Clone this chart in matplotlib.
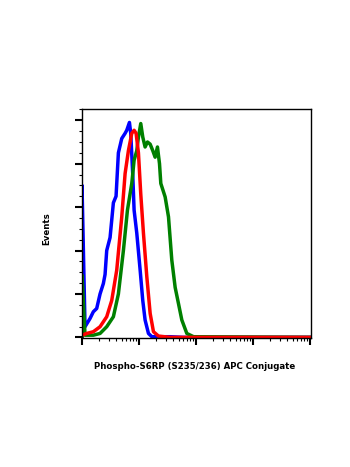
import numpy as np
import matplotlib
matplotlib.use("Agg")
import matplotlib.pyplot as plt
from matplotlib.ticker import LogLocator, MultipleLocator, NullFormatter

# log10 intensity positions and event counts (% of max)
blue_logx = [0.0, 0.0, 0.053, 0.141, 0.199, 0.258, 0.317, 0.375, 0.405, 0.434, 0.493, 0.522,
             0.551, 0.598, 0.639, 0.698, 0.757, 0.786, 0.833, 0.856, 0.891, 0.915, 0.962,
             1.021, 1.067, 1.108, 1.167, 1.226, 1.548, 1.783, 4.02]
blue_y = [0.0, 70.0, 4.9, 8.7, 11.8, 13.3, 20.0, 24.8, 29.0, 40.0, 46.0, 54.0,
          62.0, 65.0, 85.0, 91.6, 94.0, 95.4, 99.0, 94.0, 75.0, 58.6, 48.0,
          31.0, 17.0, 8.0, 1.8, 0.3, 0.3, 0.0, 0.0]

red_logx = [0.0, 0.082, 0.199, 0.317, 0.434, 0.522, 0.610, 0.698, 0.757, 0.815, 0.874,
            0.915, 0.950, 0.991, 1.032, 1.079, 1.138, 1.197, 1.255, 1.343, 1.548, 4.02]
red_y = [1.0, 1.8, 2.6, 4.9, 9.5, 17.0, 31.0, 55.5, 75.5, 86.0, 94.0,
         95.4, 94.0, 85.0, 66.0, 48.0, 28.0, 11.0, 2.6, 0.6, 0.0, 0.0]

green_logx = [0.0, 0.0, 0.053, 0.199, 0.317, 0.434, 0.551, 0.639, 0.727, 0.798, 0.874,
              0.915, 0.962, 0.991, 1.032, 1.067, 1.108, 1.150, 1.197, 1.243, 1.284,
              1.325, 1.361, 1.384, 1.460, 1.519, 1.577, 1.636, 1.694, 1.753, 1.841,
              1.959, 4.02]
green_y = [0.0, 28.7, 1.0, 1.0, 1.8, 4.9, 9.5, 20.0, 40.0, 58.6, 70.9,
           81.6, 86.0, 92.3, 98.5, 92.3, 87.7, 90.0, 89.0, 86.0, 83.0,
           87.7, 80.0, 70.9, 64.7, 55.5, 35.6, 23.0, 15.6, 8.0, 1.8,
           0.3, 0.0]

series = [(blue_logx, blue_y, "#0000ff"),
          (green_logx, green_y, "#008000"),
          (red_logx, red_y, "#ff0000")]

fig = plt.figure(figsize=(3.5, 4.67), dpi=100)
ax = fig.add_axes([0.2343, 0.2762, 0.654, 0.4904])

for lx, y, c in series:
    ax.plot(np.power(10.0, lx), y, color=c, lw=2.5, solid_joinstyle="round")

ax.set_xscale("log")
ax.set_xlim(1, 10 ** 4.02)
ax.set_ylim(-0.3, 105.2)

ax.xaxis.set_major_locator(LogLocator(base=10, numticks=10))
ax.xaxis.set_minor_locator(LogLocator(base=10, subs=np.arange(2, 10), numticks=20))
ax.xaxis.set_major_formatter(NullFormatter())
ax.xaxis.set_minor_formatter(NullFormatter())
ax.yaxis.set_major_locator(MultipleLocator(20))
ax.yaxis.set_minor_locator(MultipleLocator(5))
ax.yaxis.set_major_formatter(NullFormatter())

ax.tick_params(which="major", direction="out", length=5, width=1.5)
ax.tick_params(which="minor", direction="out", length=2.5, width=0.8)
for s in ax.spines.values():
    s.set_linewidth(1.0)

fam = ["DejaVu Sans"]
fig.text(0.557, 0.215, "Phospho-S6RP (S235/236) APC Conjugate", ha="center", va="center",
         fontsize=6.2, fontweight="bold", family=fam)
fig.text(0.135, 0.51, "Events", ha="center", va="center", rotation=90,
         fontsize=6.2, fontweight="bold", family=fam)

fig.savefig("out.png", dpi=100)
